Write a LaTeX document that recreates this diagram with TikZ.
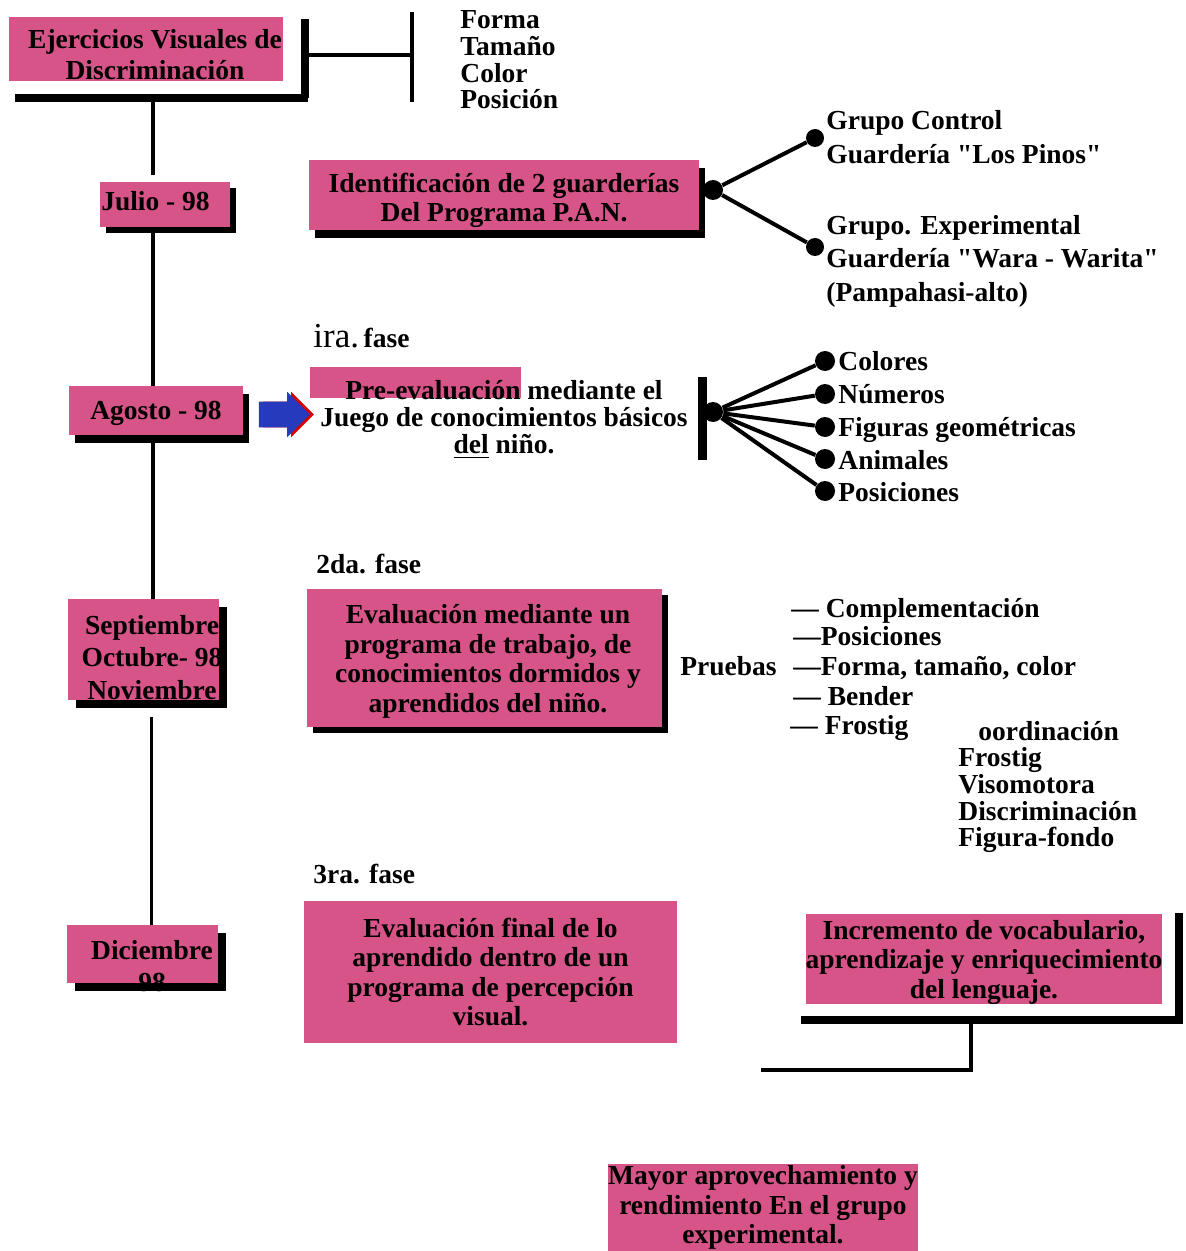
\documentclass[tikz,border=0pt]{standalone}
\usepackage{fontspec}
\setmainfont{Liberation Serif}
\usetikzlibrary{shapes.arrows,shadows}
\definecolor{rosa}{RGB}{214,84,135}
\definecolor{azul}{RGB}{38,58,190}

\begin{document}
\begin{tikzpicture}[x=0.5pt, y=-0.5pt,
            every node/.style = {font=\fontsize{13.75}{14.75}\selectfont\bfseries},
            caja/.style = {fill=rosa, inner sep=0pt, align=center},
            sombra/.style 2 args = {drop shadow={shadow xshift=#1, shadow yshift=#2, fill=black, opacity=1}},
            lbl/.style = {anchor=west, inner sep=0pt, text height=9pt, text depth=0pt},
            linea/.style = {inner sep=0pt, text height=9pt, text depth=0pt},
            punto/.style = {circle, fill=black, inner sep=0pt, minimum size=10pt},
            tline/.style = {line width=2pt},
            rama/.style = {line width=2pt},
            barra/.style = {line width=4pt}]
            \useasboundingbox (0,0) rectangle (1185,1251);

            \node[caja, minimum width=137pt, minimum height=32pt] (ejer) at (146,49) {};
            \node[align=center, font=\fontsize{13.75}{15.5}\selectfont\bfseries] (ejerT) at (155,54.5) {Ejercicios Visuales de\\Discriminación};
            \coordinate (barL) at (15,98);
            \coordinate (barR) at (308,98);
            \coordinate (barT) at (304.5,19);
            \coordinate (brR) at (412,55);
            \coordinate (brTop) at (412,12);
            \coordinate (brBot) at (412,102);
            \draw[barra] (barL) -- (barR);
            \draw[barra] (barT) -- (barT |- barR);
            \draw[rama] (barT |- brR) -- (brR);
            \draw[rama] (brTop) -- (brBot);
            \node[lbl] (forma) at (460,20) {Forma};
            \node[lbl] (tamano) at (460,47) {Tamaño};
            \node[lbl] (color) at (460,74) {Color};
            \node[lbl] (posicion) at (460,100) {Posición};

            \node[caja, minimum width=65pt, minimum height=22.5pt, sombra={3pt}{-3pt}] (julio) at (165,204.5) {};
            \node[linea] (julioT) at (155.5,202) {Julio - 98};
            \node[caja, linea, minimum width=87pt, minimum height=24.5pt, sombra={3pt}{-4pt}] (agosto) at (156,410.5) {Agosto - 98};
            \node[caja, minimum width=75.5pt, minimum height=50.5pt, sombra={4pt}{-4pt}] (sept) at (143.5,649.5) {};
            \node[align=center, font=\fontsize{13.75}{16.25}\selectfont\bfseries] (septT) at (152,657.5) {Septiembre\\Octubre- 98\\Noviembre};
            \node[caja, minimum width=75.5pt, minimum height=29pt, sombra={4pt}{-4pt}] (dic) at (142.5,954) {};
            \node[align=center, font=\fontsize{13.75}{16}\selectfont\bfseries] (dicT) at (152,966) {Diciembre\\98};

            \coordinate (axis) at (153,0);
            \draw[tline, shorten >=3.5pt] (axis |- barL) -- (axis |- julio.north);
            \draw[tline] (axis |- julio.south) -- (axis |- agosto.north);
            \draw[tline] (axis |- agosto.south) -- (axis |- sept.north);
            \draw[line width=1.5pt, shorten <=8.5pt] ([xshift=-1pt]axis |- sept.south) -- ([xshift=-1pt]axis |- dic.north);

            \node[caja, minimum width=195pt, minimum height=35pt, sombra={3pt}{-4pt}] (ident) at (504,195) {};
            \node[align=center] (identT) at (504,200.5) {Identificación de 2 guarderías\\Del Programa P.A.N.};
            \node[punto] (hubA) at (713,190) {};
            \node[punto, minimum size=9pt] (grupoC) at (815,138) {};
            \node[punto, minimum size=9pt] (grupoE) at (815,247) {};
            \draw[rama] (hubA) -- (grupoC);
            \draw[rama] (hubA) -- (grupoE);
            \node[lbl] (grupoC1) at (826,121) {Grupo Control};
            \node[lbl] (grupoC2) at (826,155) {Guardería \textquotedbl Los Pinos\textquotedbl};
            \node[lbl] (grupoE1) at (826,226) {Grupo. Experimental};
            \node[lbl] (grupoE2) at (826,259) {Guardería \textquotedbl Wara - Warita\textquotedbl};
            \node[lbl] (grupoE3) at (826,292) {(Pampahasi-alto)};

            \node[anchor=base west, inner sep=0pt] (fase1) at (313,348) {{\fontsize{17.5}{17.5}\selectfont\mdseries ira.}\,fase};
            \node[single arrow, fill=azul, inner xsep=0pt, inner ysep=6.25pt, minimum height=25.5pt,
                single arrow head extend=5pt,
                drop shadow={shadow xshift=2pt, shadow yshift=0pt, fill=red!85!black, opacity=1}] (flecha) at (278,414.5) {};
            \fill[rosa] (310,367) rectangle (521,398);
            \node[align=center, font=\fontsize{13.75}{13.5}\selectfont\bfseries] (preval) at (504,419.5) {Pre-evaluación mediante el\\Juego de conocimientos básicos\\\underline{del} niño.};
            \coordinate (barPa) at (702.5,377);
            \coordinate (barPb) at (702.5,460);
            \draw[line width=4.5pt] (barPa) -- (barPb);
            \node[punto] (hubB) at (713,412) {};
            \node[punto] (dColores) at (825,361) {};
            \node[punto] (dNumeros) at (825,394) {};
            \node[punto] (dFiguras) at (825,427) {};
            \node[punto] (dAnimales) at (825,459) {};
            \node[punto] (dPosic) at (825,491) {};
            \draw[rama] (hubB) -- (dColores);
            \draw[rama] (hubB) -- (dNumeros);
            \draw[rama] (hubB) -- (dFiguras);
            \draw[rama] (hubB) -- (dAnimales);
            \draw[rama] (hubB) -- (dPosic);
            \node[lbl] (colores) at (838,361) {Colores};
            \node[lbl] (numeros) at (838,394) {Números};
            \node[lbl] (figuras) at (838,427) {Figuras geométricas};
            \node[lbl] (animales) at (838,460) {Animales};
            \node[lbl] (posiciones) at (838,492) {Posiciones};

            \node[anchor=base west, inner sep=0pt] (fase2) at (316,573) {2da. fase};
            \node[caja, minimum width=177.5pt, minimum height=69pt, sombra={3pt}{-3pt}] (eval) at (484.5,658) {};
            \node[align=center] (evalT) at (488,661.5) {Evaluación mediante un\\programa de trabajo, de\\conocimientos dormidos y\\aprendidos del niño.};
            \node[lbl] (pruebas) at (680,666) {Pruebas};
            \node[lbl] (complem) at (791,608) {— Complementación};
            \node[lbl] (posic2) at (793,636) {—Posiciones};
            \node[lbl] (forma2) at (793,666) {—Forma, tamaño, color};
            \node[lbl] (bender) at (793,696) {— Bender};
            \node[lbl] (frostig) at (790,725) {— Frostig};
            \node[lbl] (coord) at (978,731) {oordinación};
            \node[lbl] (frostig2) at (958,757) {Frostig};
            \node[lbl] (visomot) at (958,784) {Visomotora};
            \node[lbl] (discrim) at (958,811) {Discriminación};
            \node[lbl] (figfondo) at (958,837) {Figura-fondo};

            \node[anchor=base west, inner sep=0pt] (fase3) at (313,883) {3ra. fase};
            \node[caja, minimum width=186.5pt, minimum height=71pt] (final) at (490.5,972) {Evaluación final de lo\\aprendido dentro de un\\programa de percepción\\visual.};

            \node[caja, minimum width=178pt, minimum height=45pt] (incr) at (984,959) {};
            \node[align=center] (incrT) at (984,962) {Incremento de vocabulario,\\aprendizaje y enriquecimiento\\del lenguaje.};
            \coordinate (incL) at (801,1020);
            \coordinate (incR) at (1182,1020);
            \coordinate (incT) at (1178.5,913);
            \coordinate (incM) at (971,1020);
            \coordinate (incB) at (971,1070);
            \coordinate (incE) at (761,1070);
            \draw[barra] (incL) -- (incR);
            \draw[barra] (incT) -- ([yshift=-2pt]incT |- incR);
            \draw[rama] (incM) -- (incB) -- (incE);

            \node[caja, minimum width=155pt, minimum height=43.5pt] (mayor) at (763,1207.5) {Mayor aprovechamiento y\\rendimiento En el grupo\\experimental.};
        \end{tikzpicture}
\end{document}
